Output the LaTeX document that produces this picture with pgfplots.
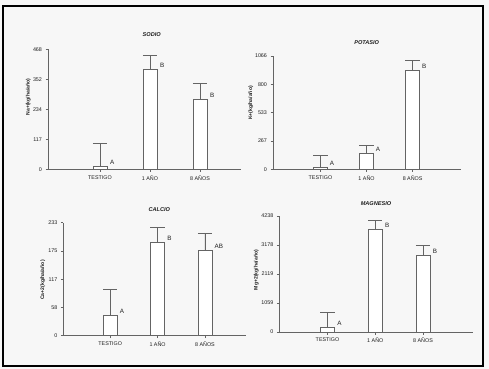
\documentclass[border=0pt]{standalone}
\usepackage{fontspec}
\setmainfont{Liberation Sans}
\usepackage{pgfplots}
\pgfplotsset{compat=1.18}
\definecolor{bg}{HTML}{F7F7F7}
\definecolor{ln}{HTML}{646464}
\definecolor{tx}{HTML}{202020}
\pgfplotsset{
 panel/.style={
  scale only axis, anchor=south west, enlargelimits=false, ymin=0,
  axis lines*=left, axis line style={ln, line width=0.75bp},
  tick style={ln, line width=0.6bp}, tick align=outside, major tick length=2.5bp,
  xtick={0,1,2}, xticklabels={TESTIGO,1 AÑO,8 AÑOS},
  ticklabel style={font=\fontsize{5.4}{6}\selectfont, text=tx},
  /pgf/number format/assume math mode=true,
  clip=false,
 },
 barst/.style={ybar, bar width=14bp, draw=ln, fill=white, line width=0.75bp,
  error bars/.cd, y dir=plus, y explicit,
  error bar style={ln, line width=0.75bp},
  error mark options={rotate=90, ln, mark size=7.2bp, line width=0.75bp}},
}
\tikzset{lettr/.style={anchor=south west, inner sep=0pt, yshift=1.5bp, text=tx, font=\fontsize{6.3}{7}\selectfont}}
\newcommand{\ttl}{\fontsize{5.6}{6}\selectfont\bfseries\itshape}
\newcommand{\ylab}{\fontsize{5.1}{6}\selectfont\bfseries}
\begin{document}
\begin{tikzpicture}
\fill[bg] (0,0) rectangle (489bp,369bp);
\useasboundingbox (0,0) rectangle (489bp,369bp);
\draw[black, line width=1.4bp] (3bp,363bp) rectangle (483bp,3bp);

% SODIO
\begin{axis}[panel, at={(48bp,199.7bp)}, width=193bp, height=120bp,
  xmin=-1.04, xmax=2.82, ymax=468,
  ytick={0,117,234,351,468}, yticklabels={0,117,234,352,468}]
\addplot[barst] coordinates {(0,12) +- (0,89) (1,390) +- (0,55) (2,274) +- (0,61)};
\node[lettr] at (axis cs:0.2,12) {A};
\node[lettr] at (axis cs:1.2,390) {B};
\node[lettr] at (axis cs:2.2,274) {B};
\end{axis}
\node[text=tx] at (151.7bp,334bp) {\ttl SODIO};
\node[rotate=90, text=tx] at (28.3bp,272bp) {\ylab Na+(kg/ha/año)};

% POTASIO
\begin{axis}[panel, at={(273bp,199.7bp)}, width=188bp, height=113.3bp,
  xmin=-1.03, xmax=3.05, ymax=1066,
  ytick={0,266.5,533,799.5,1066}, yticklabels={0,267,533,800,1066}]
\addplot[barst] coordinates {(0,19) +- (0,113) (1,150) +- (0,76) (2,931) +- (0,94)};
\node[lettr] at (axis cs:0.2,19) {A};
\node[lettr] at (axis cs:1.2,150) {A};
\node[lettr] at (axis cs:2.2,931) {B};
\end{axis}
\node[text=tx] at (366.7bp,326.3bp) {\ttl POTASIO};
\node[rotate=90, text=tx] at (250.7bp,266bp) {\ylab K+(kg/ha/año)};

% CALCIO
\begin{axis}[panel, at={(63.3bp,33.3bp)}, width=182.4bp, height=113bp,
  xmin=-0.99, xmax=2.86, ymax=233,
  ytick={0,58.25,116.5,174.75,233}, yticklabels={0,58,117,175,233}]
\addplot[barst] coordinates {(0,42) +- (0,53.5) (1,192) +- (0,31) (2,176) +- (0,36)};
\node[lettr] at (axis cs:0.2,42) {A};
\node[lettr] at (axis cs:1.2,192) {B};
\node[lettr] at (axis cs:2.2,176) {AB};
\end{axis}
\node[text=tx] at (159.3bp,159bp) {\ttl CALCIO};
\node[rotate=90, text=tx] at (42.7bp,89bp) {\ylab Ca+2(kg/ha/año)};

% MAGNESIO
\begin{axis}[panel, at={(279.3bp,37bp)}, width=193.4bp, height=116bp,
  xmin=-1.01, xmax=3.04, ymax=4238,
  ytick={0,1059.5,2119,3178.5,4238}, yticklabels={0,1059,2119,3178,4238}]
\addplot[barst] coordinates {(0,170) +- (0,549) (1,3751) +- (0,329) (2,2801) +- (0,365)};
\node[lettr] at (axis cs:0.2,170) {A};
\node[lettr] at (axis cs:1.2,3751) {B};
\node[lettr] at (axis cs:2.2,2801) {B};
\end{axis}
\node[text=tx] at (376bp,165bp) {\ttl MAGNESIO};
\node[rotate=90, text=tx] at (256.3bp,99bp) {\ylab Mg+2(kg/ha/año)};
\end{tikzpicture}
\end{document}
